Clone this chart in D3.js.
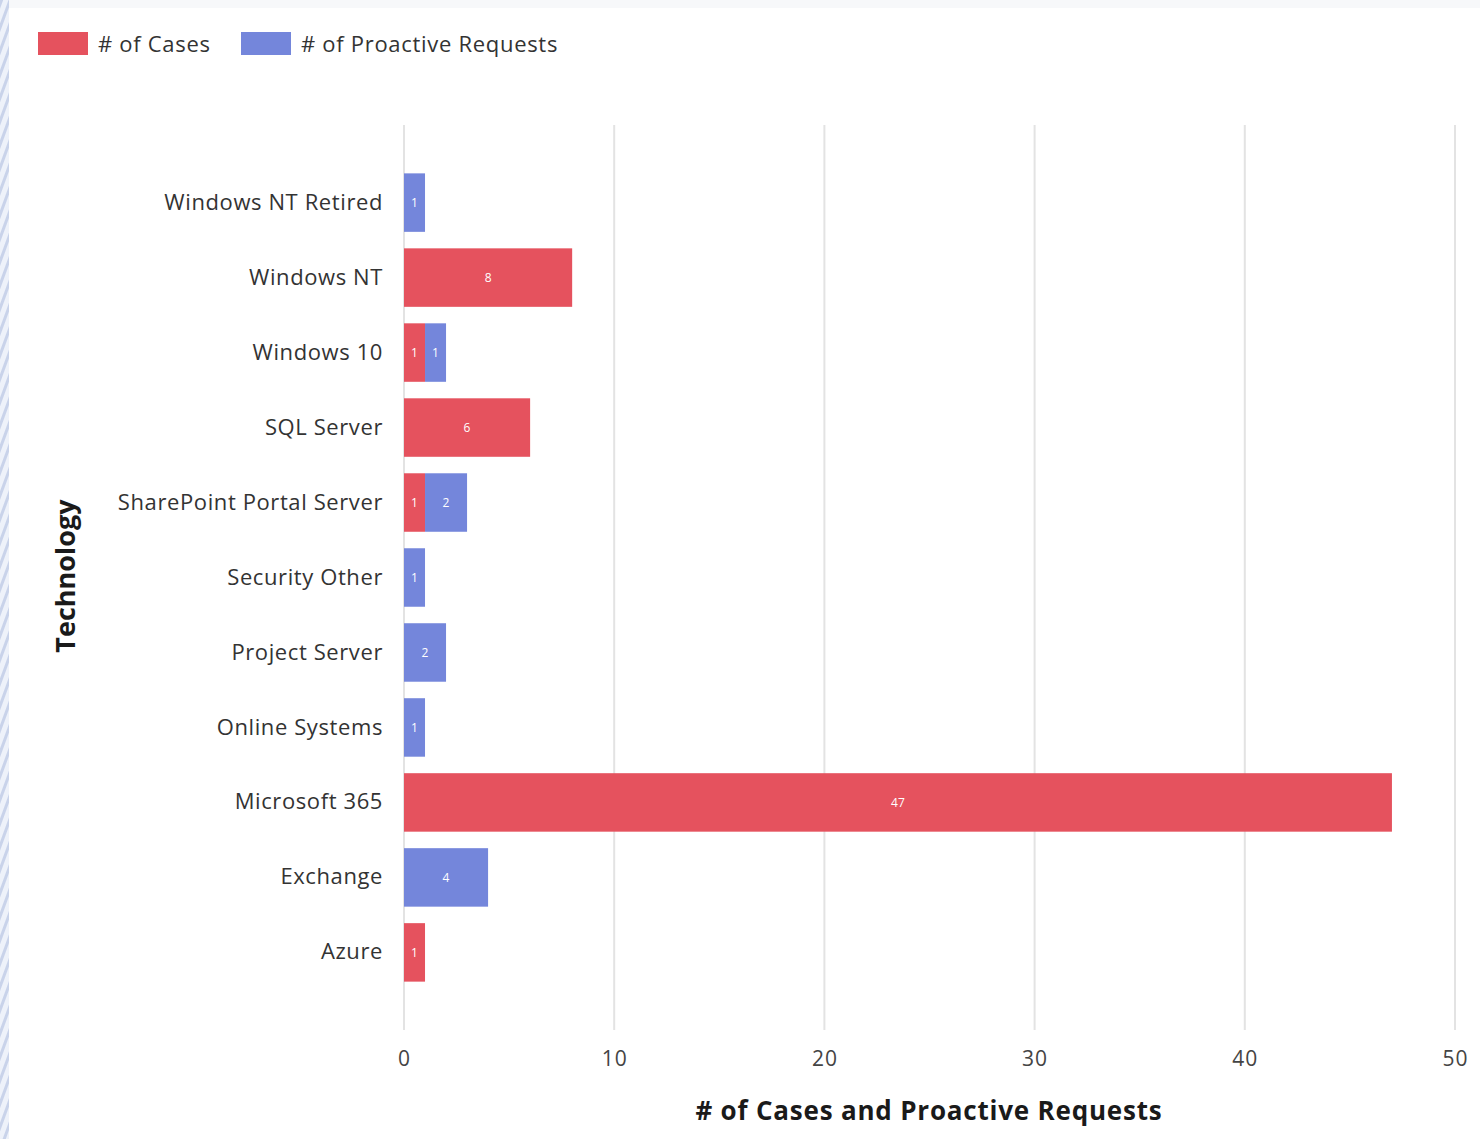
<!DOCTYPE html>
<html><head><meta charset="utf-8">
<script src="https://cdn.jsdelivr.net/npm/d3@7"></script>
<style>
html,body{margin:0;padding:0;background:#fff;}
svg{display:block;}
</style></head>
<body>
<svg id="chart" width="1480" height="1139"></svg>
<script>
const categories = ["Windows NT Retired","Windows NT","Windows 10","SQL Server","SharePoint Portal Server","Security Other","Project Server","Online Systems","Microsoft 365","Exchange","Azure"];
const cases = [0,8,1,6,1,0,0,0,47,0,1];
const proactive = [1,0,1,0,2,1,2,1,0,4,0];
const seriesNames = ["# of Cases","# of Proactive Requests"];
const xTicks = [0,10,20,30,40,50];

const colors = ["#E5525E","#7486DB"];
const font = "'Open Sans', 'Noto Sans', sans-serif";
const svg = d3.select("#chart");

// background / frame
const defs = svg.append("defs");
const pat = defs.append("pattern").attr("id","stripes").attr("width",8).attr("height",8)
  .attr("patternUnits","userSpaceOnUse").attr("patternTransform","rotate(20)");
pat.append("rect").attr("width",8).attr("height",8).attr("fill","#eef2fa");
pat.append("rect").attr("width",3).attr("height",8).attr("fill","#c9d3ea");
svg.append("rect").attr("width",1480).attr("height",1139).attr("fill","#f7f8fa");
svg.append("rect").attr("x",0).attr("y",0).attr("width",9).attr("height",1139).attr("fill","url(#stripes)");
svg.append("rect").attr("x",9).attr("y",8).attr("width",1471).attr("height",1131).attr("fill","#ffffff");

const x = d3.scaleLinear().domain([0,50]).range([404,1455]);
const y = d3.scaleBand().domain(categories).range([125,1030]).paddingInner(0.22).paddingOuter(0.645);

// gridlines
svg.append("g").selectAll("line").data(xTicks).join("line")
  .attr("x1",d=>x(d)).attr("x2",d=>x(d)).attr("y1",125).attr("y2",1030)
  .attr("stroke","#e3e3e3").attr("stroke-width",2);

// stacked data
const rows = categories.map((c,i)=>({cat:c, cases:cases[i], proactive:proactive[i]}));
const stack = d3.stack().keys(["cases","proactive"])(rows);

const g = svg.append("g");
stack.forEach((layer,li)=>{
  const lg = g.append("g");
  layer.forEach((d,i)=>{
    const v = d[1]-d[0];
    if(v<=0) return;
    lg.append("rect").attr("x",x(d[0])).attr("y",y(categories[i]))
      .attr("width",x(d[1])-x(d[0])).attr("height",y.bandwidth()).attr("fill",colors[li]);
    lg.append("text").attr("x",(x(d[0])+x(d[1]))/2).attr("y",y(categories[i])+y.bandwidth()/2)
      .attr("text-anchor","middle").attr("dominant-baseline","central")
      .attr("fill","#ffffff").attr("font-family",font).attr("font-size",12).text(v);
  });
});

// y axis labels
const yAxis = d3.axisLeft(y).tickSize(0).tickPadding(20);
const ya = svg.append("g").attr("transform","translate(403,0)").call(yAxis);
ya.select(".domain").remove();
ya.selectAll("text").attr("font-family",font).attr("font-size",22).attr("letter-spacing","0.6px").attr("fill","#333");

// x axis labels
const xAxis = d3.axisBottom(x).tickValues(xTicks).tickSize(0).tickPadding(8);
const xa = svg.append("g").attr("transform","translate(0,1043)").call(xAxis);
xa.select(".domain").remove();
xa.selectAll("text").attr("font-family",font).attr("font-size",21).attr("letter-spacing","1px").attr("fill","#444");

// axis titles
svg.append("text").attr("x",929).attr("y",1120).attr("text-anchor","middle")
  .attr("font-family",font).attr("font-size",26).attr("letter-spacing","0.8px").attr("font-weight","bold").attr("fill","#1a1a1a")
  .text("# of Cases and Proactive Requests");
svg.append("text").attr("transform","translate(75,576) rotate(-90)").attr("text-anchor","middle")
  .attr("font-family",font).attr("font-size",27).attr("font-weight","bold").attr("fill","#1a1a1a")
  .text("Technology");

// legend
const leg = svg.append("g");
const legX = [38,241];
seriesNames.forEach((n,i)=>{
  leg.append("rect").attr("x",legX[i]).attr("y",32).attr("width",50).attr("height",23).attr("fill",colors[i]);
  leg.append("text").attr("x",legX[i]+60).attr("y",43).attr("dominant-baseline","central")
    .attr("font-family",font).attr("font-size",22).attr("letter-spacing","0.7px").attr("fill","#333").text(n);
});
</script>
</body></html>
